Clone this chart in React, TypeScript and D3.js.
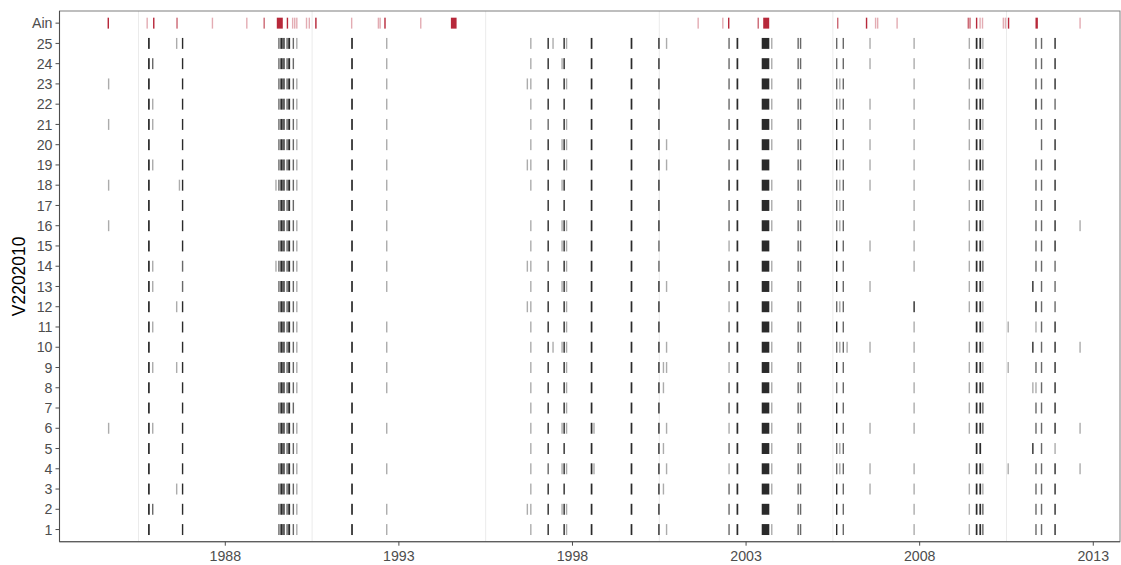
import React from "react";
import * as d3 from "d3";

// Row labels (top to bottom)
const rowLabels = ["Ain", "25", "24", "23", "22", "21", "20", "19", "18", "17", "16", "15", "14", "13", "12", "11", "10", "9", "8", "7", "6", "5", "4", "3", "2", "1"];

// Event columns shared by the stations: centre date (decimal year) and duration (days)
const eventYears = [
  1984.64, 1985.8, 1985.91, 1986.6, 1986.68, 1986.77, 1989.46, 1989.545, 1989.62, 1989.69,
  1989.78, 1989.84, 1989.96, 1990.06, 1991.65, 1992.65, 1996.7, 1996.8, 1997.3, 1997.44,
  1997.7, 1997.76, 1997.83, 1998.55, 1998.62, 1999.7, 2000.49, 2000.62, 2000.71, 2002.51,
  2002.75, 2003.56, 2003.74, 2004.5, 2004.57, 2005.61, 2005.7, 2005.8, 2005.91, 2006.57,
  2007.84, 2009.43, 2009.64, 2009.745, 2009.82, 2010.55, 2011.26, 2011.35, 2011.51, 2011.9, 2012.62,
];
const eventDays = [
  0, 18, 0, 0, 0, 8, 0, 10, 25, 15,
  8, 20, 5, 0, 18, 0, 0, 0, 10, 0,
  0, 10, 0, 18, 0, 18, 12, 0, 0, 8,
  18, 80, 0, 8, 8, 8, 0, 8, 0, 0,
  5, 0, 18, 18, 5, 0, 12, 8, 8, 12, 0,
];

// Intensity (0 none, 1 light, 2 medium, 3 dark) of each event column, stations 25 .. 1
const stationLevels = [
  "0301030233 2321310131 0313033012 3312220201 11331002230", // 25
  "0320030233 2320310130 1303033002 3312220201 11331002230", // 24
  "1300030233 2321311130 0313033002 3312221200 11331002230", // 23
  "0310030233 2321310130 0303033002 3312221201 11332003220", // 22
  "1310030233 2321310120 0313033002 3312230201 11331002230", // 21
  "0300030233 2321310130 1313033012 3312230201 11331000230", // 20
  "0310030233 2321311130 0313033012 3302231201 11332002230", // 19
  "1300131233 2321310130 1303033003 3312221201 11331002230", // 18
  "0300030233 2320310030 0303033002 3312221200 11332002230", // 17
  "1300030233 2321310130 1313033002 3312221200 11331002231", // 16
  "0300030233 2321310130 1313032001 3302230201 11331002230", // 15
  "0310021233 2321311120 0313032002 3312230200 11332002220", // 14
  "0310020233 2321310130 1313033012 3312230201 01331030220", // 13
  "0301030233 2321301130 0313033001 3312221200 31331003220", // 12
  "0310030233 2321310130 0313033002 3312230200 10331101230", // 11
  "0300030233 2321310131 1313033012 3312221211 11331030231", // 10
  "0311030233 2321310130 0313033111 3312230200 11331102230", // 9
  "0300030233 2321310130 0313033102 3312220200 11332011230", // 8
  "0300030233 2320300130 0313033002 3312230200 11332002230", // 7
  "1310030233 2321310130 1313133011 3312230201 11332002231", // 6
  "0300030233 2321300130 0303033102 3312221200 00330030210", // 5
  "0300030233 2321310120 1313133011 3312221201 11331102231", // 4
  "0301030233 2321300130 0303033102 3312230201 11331002230", // 3
  "0320030233 2321311130 1313033002 3302230200 11332002230", // 2
  "0300030233 2321310130 0313033012 3312230200 11332002230", // 1
];

// Ain (aggregate) events
const ainYears = [
  1984.63, 1985.75, 1985.94, 1986.61, 1987.63, 1988.62, 1989.12, 1989.57, 1989.79, 1989.94,
  1990.0, 1990.06, 1990.34, 1990.42, 1990.61, 1991.64, 1992.41, 1992.46, 1992.6, 1993.63,
  1994.58, 2001.62, 2002.33, 2002.5, 2003.35, 2003.58, 2005.64, 2006.47, 2006.73, 2006.79,
  2007.35, 2009.4, 2009.45, 2009.64, 2009.74, 2009.81, 2010.41, 2010.47, 2010.56, 2011.37, 2012.62,
];
const ainDays = [
  15, 0, 15, 5, 0, 0, 0, 63, 8, 0,
  0, 0, 0, 0, 15, 0, 0, 0, 8, 0,
  60, 0, 0, 8, 0, 63, 0, 0, 0, 0,
  0, 0, 0, 8, 0, 0, 0, 0, 8, 25, 0,
];
const ainLevels = [
  3, 1, 3, 2, 1, 1, 2, 3, 3, 1,
  1, 1, 1, 1, 3, 1, 1, 1, 3, 1,
  3, 1, 1, 3, 2, 3, 2, 3, 1, 1,
  1, 2, 2, 3, 1, 1, 1, 1, 3, 3, 1,
];

const xTicks = [1988, 1993, 1998, 2003, 2008, 2013];
const xMinorGrid = [1985.5, 1990.5, 1995.5, 2000.5, 2005.5, 2010.5];
const yTitle = "V2202010";

const W = 1121;
const H = 565;
const M = { left: 59.5, right: 1120, top: 11, bottom: 541.7 };
const opacityByLevel = [0, 0.36, 0.66, 0.93];

export default function App() {
  const x = d3.scaleLinear().domain([1983.225, 2013.77]).range([M.left, M.right]);
  const y = d3.scalePoint<string>().domain(rowLabels).range([M.top, M.bottom]).padding(0.6);
  const step = y.step();
  const markH = step * 0.54;

  const rectFor = (year: number, days: number) => {
    const half = days / 365.25 / 2;
    const x0 = x(year - half);
    const x1 = x(year + half);
    const w = Math.max(1.4, x1 - x0);
    return { x: (x0 + x1) / 2 - w / 2, w };
  };

  const marks: JSX.Element[] = [];
  ainYears.forEach((yr, i) => {
    const r = rectFor(yr, ainDays[i]);
    marks.push(
      <rect key={`ain-${i}`} x={r.x} width={r.w} y={(y("Ain") as number) - markH / 2} height={markH}
        fill="#b2182b" fillOpacity={opacityByLevel[ainLevels[i]]} />
    );
  });
  stationLevels.forEach((pattern, si) => {
    const label = rowLabels[si + 1];
    const levels = pattern.replace(/\s/g, "").split("").map(Number);
    levels.forEach((lv, j) => {
      if (!lv) return;
      const r = rectFor(eventYears[j], eventDays[j]);
      marks.push(
        <rect key={`s${label}-${j}`} x={r.x} width={r.w} y={(y(label) as number) - markH / 2} height={markH}
          fill="#1a1a1a" fillOpacity={opacityByLevel[lv]} />
      );
    });
  });

  const font = "Arial, 'Liberation Sans', Helvetica, sans-serif";

  return (
    <div style={{ position: "absolute", left: 0, top: 0 }}>
      <svg width={W} height={H} style={{ display: "block", background: "#fff" }}>
        <rect x={M.left} y={M.top} width={M.right - M.left} height={M.bottom - M.top} fill="#fff" />
        {xMinorGrid.map((g) => (
          <line key={g} x1={x(g)} x2={x(g)} y1={M.top} y2={M.bottom} stroke="#ebebeb" strokeWidth={1} />
        ))}
        {marks}
        <rect x={M.left} y={M.top} width={M.right - M.left} height={M.bottom - M.top} fill="none" stroke="#7f7f7f" strokeWidth={1} />
        <line x1={M.left} x2={M.left} y1={M.top} y2={M.bottom} stroke="#4d4d4d" strokeWidth={1.1} />
        <line x1={M.left} x2={M.right} y1={M.bottom} y2={M.bottom} stroke="#4d4d4d" strokeWidth={1.1} />
        {rowLabels.map((l) => (
          <g key={l}>
            <line x1={M.left - 4} x2={M.left} y1={y(l)} y2={y(l)} stroke="#4d4d4d" strokeWidth={1} />
            <text x={M.left - 7} y={y(l)} dy="0.36em" textAnchor="end" fontFamily={font} fontSize={14.2} fill="#4d4d4d">{l}</text>
          </g>
        ))}
        {xTicks.map((t) => (
          <g key={t}>
            <line x1={x(t)} x2={x(t)} y1={M.bottom} y2={M.bottom + 4} stroke="#4d4d4d" strokeWidth={1} />
            <text x={x(t)} y={M.bottom + 19.5} textAnchor="middle" fontFamily={font} fontSize={14.2} fill="#4d4d4d">{t}</text>
          </g>
        ))}
        <text transform={`translate(24.5, ${(M.top + M.bottom) / 2}) rotate(-90)`} textAnchor="middle" fontFamily={font} fontSize={17.5} fill="#000">{yTitle}</text>
      </svg>
    </div>
  );
}
